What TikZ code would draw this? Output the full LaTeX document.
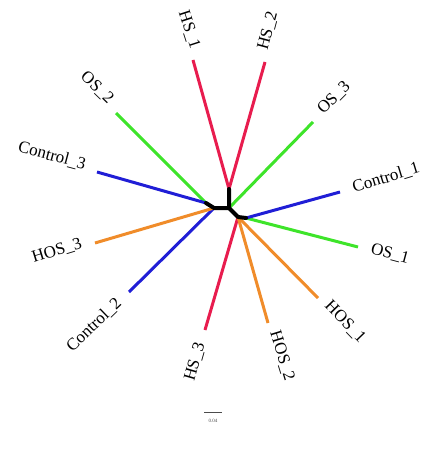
\documentclass[tikz,border=0pt]{standalone}
\usepackage{fontspec}
\setmainfont{Liberation Serif}
\definecolor{hsred}{RGB}{232,28,78}
\definecolor{osgreen}{RGB}{62,228,42}
\definecolor{ctblue}{RGB}{32,30,214}
\definecolor{hosorange}{RGB}{240,140,42}
\begin{document}
\begin{tikzpicture}[x=1pt,y=-1pt,
  branch/.style={line width=3pt},
  inner/.style={line width=4pt, black, line cap=round, line join=round},
  leaf/.style={font=\fontsize{17}{17}\selectfont, inner sep=0pt}]
\useasboundingbox (0,0) rectangle (424,457);

% internal nodes of the tree
\coordinate (nT) at (229,189);
\coordinate (nM) at (229,208);
\coordinate (nR) at (238,217);
\coordinate (nR2) at (246,218);
\coordinate (nL) at (214,208);
\coordinate (nL2) at (206,203);

% outer ends of the branches
\coordinate (eHS1) at (193,60);
\coordinate (eHS2) at (265,62);
\coordinate (eOS3) at (313,122);
\coordinate (eC1) at (340,192);
\coordinate (eOS1) at (358,247);
\coordinate (eHOS1) at (318,298);
\coordinate (eHOS2) at (268,323);
\coordinate (eHS3) at (205,330);
\coordinate (eC2) at (129,292);
\coordinate (eHOS3) at (95,243);
\coordinate (eC3) at (97,172);
\coordinate (eOS2) at (116,113);

% coloured branches
\draw[branch, hsred] (nT) -- (eHS1);
\draw[branch, hsred] (nT) -- (eHS2);
\draw[branch, hsred] (nR) -- (eHS3);
\draw[branch, osgreen] (nM) -- (eOS3);
\draw[branch, osgreen] (nR2) -- (eOS1);
\draw[branch, osgreen] (nL2) -- (eOS2);
\draw[branch, ctblue] (nR2) -- (eC1);
\draw[branch, ctblue] (nL) -- (eC2);
\draw[branch, ctblue] (nL2) -- (eC3);
\draw[branch, hosorange] (nR) -- (eHOS1);
\draw[branch, hosorange] (nR) -- (eHOS2);
\draw[branch, hosorange] (nL) -- (eHOS3);

% black internal edges
\draw[inner] (nT) -- (nM) -- (nR) -- (nR2);
\draw[inner] (nM) -- (nL) -- (nL2);

% leaf labels
\node[leaf, rotate=-72] (lHS1) at (189,30) {HS\_1};
\node[leaf, rotate=75] (lHS2) at (268,31) {HS\_2};
\node[leaf, rotate=45] (lOS3) at (334,98) {OS\_3};
\node[leaf, rotate=17] (lC1) at (386,178) {Control\_1};
\node[leaf, rotate=-15] (lOS1) at (390,254) {OS\_1};
\node[leaf, rotate=-46] (lHOS1) at (345,322) {HOS\_1};
\node[leaf, rotate=-73] (lHOS2) at (282,356) {HOS\_2};
\node[leaf, rotate=74] (lHS3) at (195,362) {HS\_3};
\node[leaf, rotate=44] (lC2) at (94,325) {Control\_2};
\node[leaf, rotate=17] (lHOS3) at (57,251) {HOS\_3};
\node[leaf, rotate=-15] (lC3) at (52,156) {Control\_3};
\node[leaf, rotate=-44] (lOS2) at (97,88) {OS\_2};

% scale bar
\coordinate (sbA) at (204,412);
\coordinate (sbB) at (222,412);
\draw[line width=0.5pt, black!70] (sbA) -- (sbB);
\node[font=\fontsize{5}{5}\selectfont, text=black!70, inner sep=0pt] (sbl) at (213,421) {0.04};
\end{tikzpicture}
\end{document}
